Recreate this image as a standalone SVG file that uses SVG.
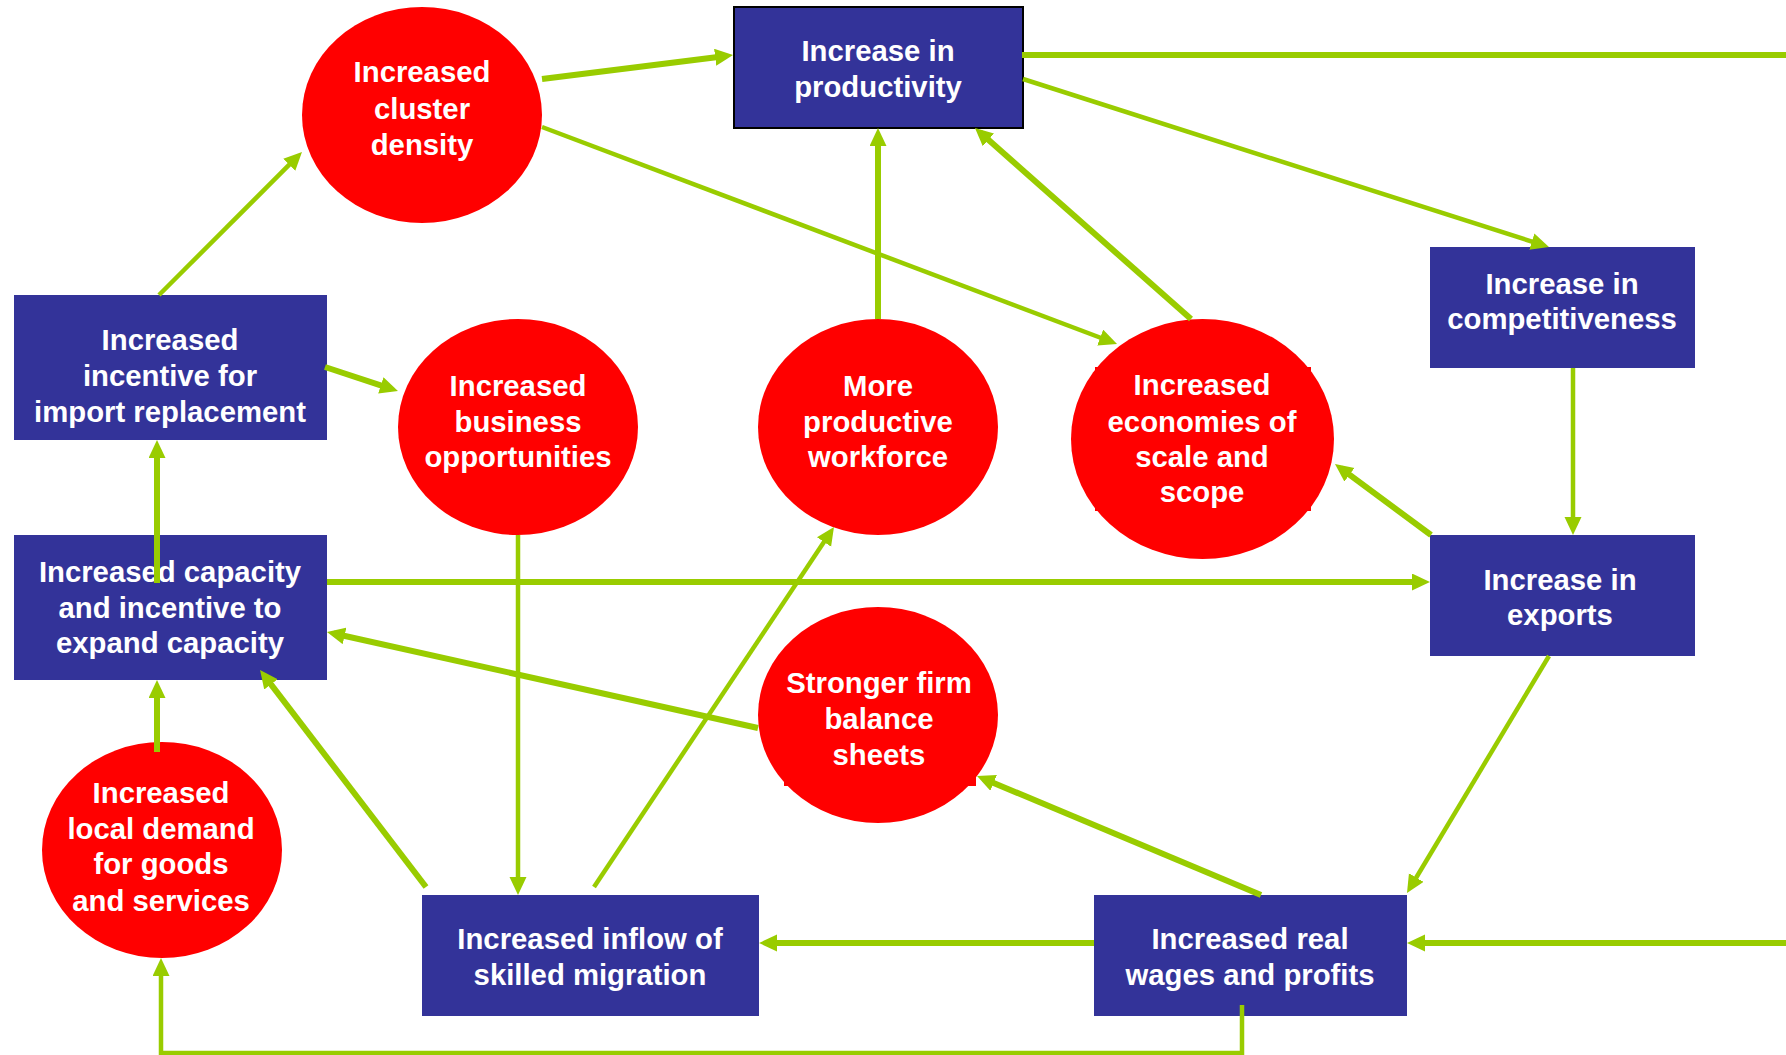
<svg xmlns="http://www.w3.org/2000/svg" width="1786" height="1055" viewBox="0 0 1786 1055">
<defs>
<style>
.box{fill:#333399}
.oval{fill:#FF0000}
.t{font-family:"Liberation Sans",Arial,sans-serif;font-weight:bold;font-size:29.3px;fill:#FFFFFF;text-anchor:middle}
.c{fill:none;stroke:#99CC00;stroke-linecap:butt;stroke-linejoin:miter}
.w6{stroke-width:6}
.w4{stroke-width:4.5}
.a{marker-end:url(#ah)}
</style>
<marker id="ah" markerUnits="userSpaceOnUse" markerWidth="20" markerHeight="18" refX="11" refY="8.5" orient="auto">
<path d="M0,0 L18,8.5 L0,17 z" fill="#99CC00"/>
</marker>
</defs>
<rect width="1786" height="1055" fill="#FFFFFF"/>

<g id="nodes">
<g id="n-productivity">
<rect class="box" x="734" y="7" width="289" height="121" stroke="#000000" stroke-width="2"/>
<text class="t" x="878" y="61">Increase in</text>
<text class="t" x="878" y="97">productivity</text>
</g>
<g id="n-cluster">
<ellipse class="oval" cx="422" cy="115" rx="120" ry="108"/>
<text class="t" x="422" y="82">Increased</text>
<text class="t" x="422" y="119">cluster</text>
<text class="t" x="422" y="155">density</text>
</g>
<g id="n-import">
<rect class="box" x="14" y="295" width="313" height="145"/>
<text class="t" x="170" y="350">Increased</text>
<text class="t" x="170" y="386">incentive for</text>
<text class="t" x="170" y="422">import replacement</text>
</g>
<g id="n-business">
<ellipse class="oval" cx="518" cy="427" rx="120" ry="108"/>
<text class="t" x="518" y="396">Increased</text>
<text class="t" x="518" y="432">business</text>
<text class="t" x="518" y="467">opportunities</text>
</g>
<g id="n-workforce">
<ellipse class="oval" cx="878" cy="427" rx="120" ry="108"/>
<text class="t" x="878" y="396">More</text>
<text class="t" x="878" y="432">productive</text>
<text class="t" x="878" y="467">workforce</text>
</g>
<g id="n-economies">
<ellipse class="oval" cx="1202.5" cy="439" rx="131.5" ry="120"/>
<rect class="oval" x="1095" y="367" width="216" height="144"/>
<text class="t" x="1202" y="395">Increased</text>
<text class="t" x="1202" y="432">economies of</text>
<text class="t" x="1202" y="467">scale and</text>
<text class="t" x="1202" y="502">scope</text>
</g>
<g id="n-competitiveness">
<rect class="box" x="1430" y="247" width="265" height="121"/>
<text class="t" x="1562" y="294">Increase in</text>
<text class="t" x="1562" y="329">competitiveness</text>
</g>
<g id="n-exports">
<rect class="box" x="1430" y="535" width="265" height="121"/>
<text class="t" x="1560" y="590">Increase in</text>
<text class="t" x="1560" y="625">exports</text>
</g>
<g id="n-capacity">
<rect class="box" x="14" y="535" width="313" height="145"/>
<text class="t" x="170" y="582">Increased capacity</text>
<text class="t" x="170" y="618">and incentive to</text>
<text class="t" x="170" y="653">expand capacity</text>
</g>
<g id="n-balance">
<ellipse class="oval" cx="878" cy="715" rx="120" ry="108"/>
<rect class="oval" x="784" y="660" width="192" height="126"/>
<text class="t" x="879" y="693">Stronger firm</text>
<text class="t" x="879" y="729">balance</text>
<text class="t" x="879" y="765">sheets</text>
</g>
<g id="n-demand">
<ellipse class="oval" cx="162" cy="850" rx="120" ry="108"/>
<text class="t" x="161" y="803">Increased</text>
<text class="t" x="161" y="839">local demand</text>
<text class="t" x="161" y="874">for goods</text>
<text class="t" x="161" y="911">and services</text>
</g>
<g id="n-migration">
<rect class="box" x="422" y="895" width="337" height="121"/>
<text class="t" x="590" y="949">Increased inflow of</text>
<text class="t" x="590" y="985">skilled migration</text>
</g>
<g id="n-wages">
<rect class="box" x="1094" y="895" width="313" height="121"/>
<text class="t" x="1250" y="949">Increased real</text>
<text class="t" x="1250" y="985">wages and profits</text>
</g>
</g>

<g id="connectors">
<line class="c w6 a" x1="542" y1="79" x2="726.1" y2="55.9"/>
<line class="c w6" x1="1022" y1="55" x2="1786" y2="55" stroke-linecap="round"/>
<line class="c w4 a" x1="1023" y1="79" x2="1542.3" y2="244.9"/>
<line class="c w4 a" x1="542" y1="127" x2="1110.5" y2="341.5"/>
<line class="c w6 a" x1="1191" y1="319" x2="980.2" y2="132.6"/>
<line class="c w6 a" x1="878" y1="319" x2="878" y2="135"/>
<line class="c w4 a" x1="159" y1="295" x2="297.05" y2="156.95"/>
<line class="c w6 a" x1="325" y1="367" x2="391.3" y2="388.8"/>
<line class="c w6 a" x1="157" y1="583" x2="157" y2="447"/>
<line class="c w6 a" x1="157" y1="752" x2="157" y2="687"/>
<line class="c w6 a" x1="327" y1="582" x2="1423" y2="582"/>
<line class="c w4 a" x1="1573" y1="368" x2="1573" y2="528"/>
<line class="c w6 a" x1="1431" y1="535" x2="1340.6" y2="468.2"/>
<line class="c w4 a" x1="1549" y1="656" x2="1410.6" y2="887"/>
<line class="c w6 a" x1="1786" y1="943" x2="1414" y2="943"/>
<line class="c w6 a" x1="1094" y1="943" x2="766" y2="943"/>
<line class="c w6 a" x1="1261" y1="895" x2="983.5" y2="778.7"/>
<polyline class="c w4 a" points="1242,1005 1242,1053 161,1053 161,965"/>
<line class="c w4 a" x1="518" y1="535" x2="518" y2="888"/>
<line class="c w4 a" x1="594" y1="887" x2="830.1" y2="532.8"/>
<line class="c w6 a" x1="426" y1="887" x2="264.3" y2="675.6"/>
<line class="c w6 a" x1="758" y1="728" x2="333.8" y2="633.5"/>
</g>
</svg>
